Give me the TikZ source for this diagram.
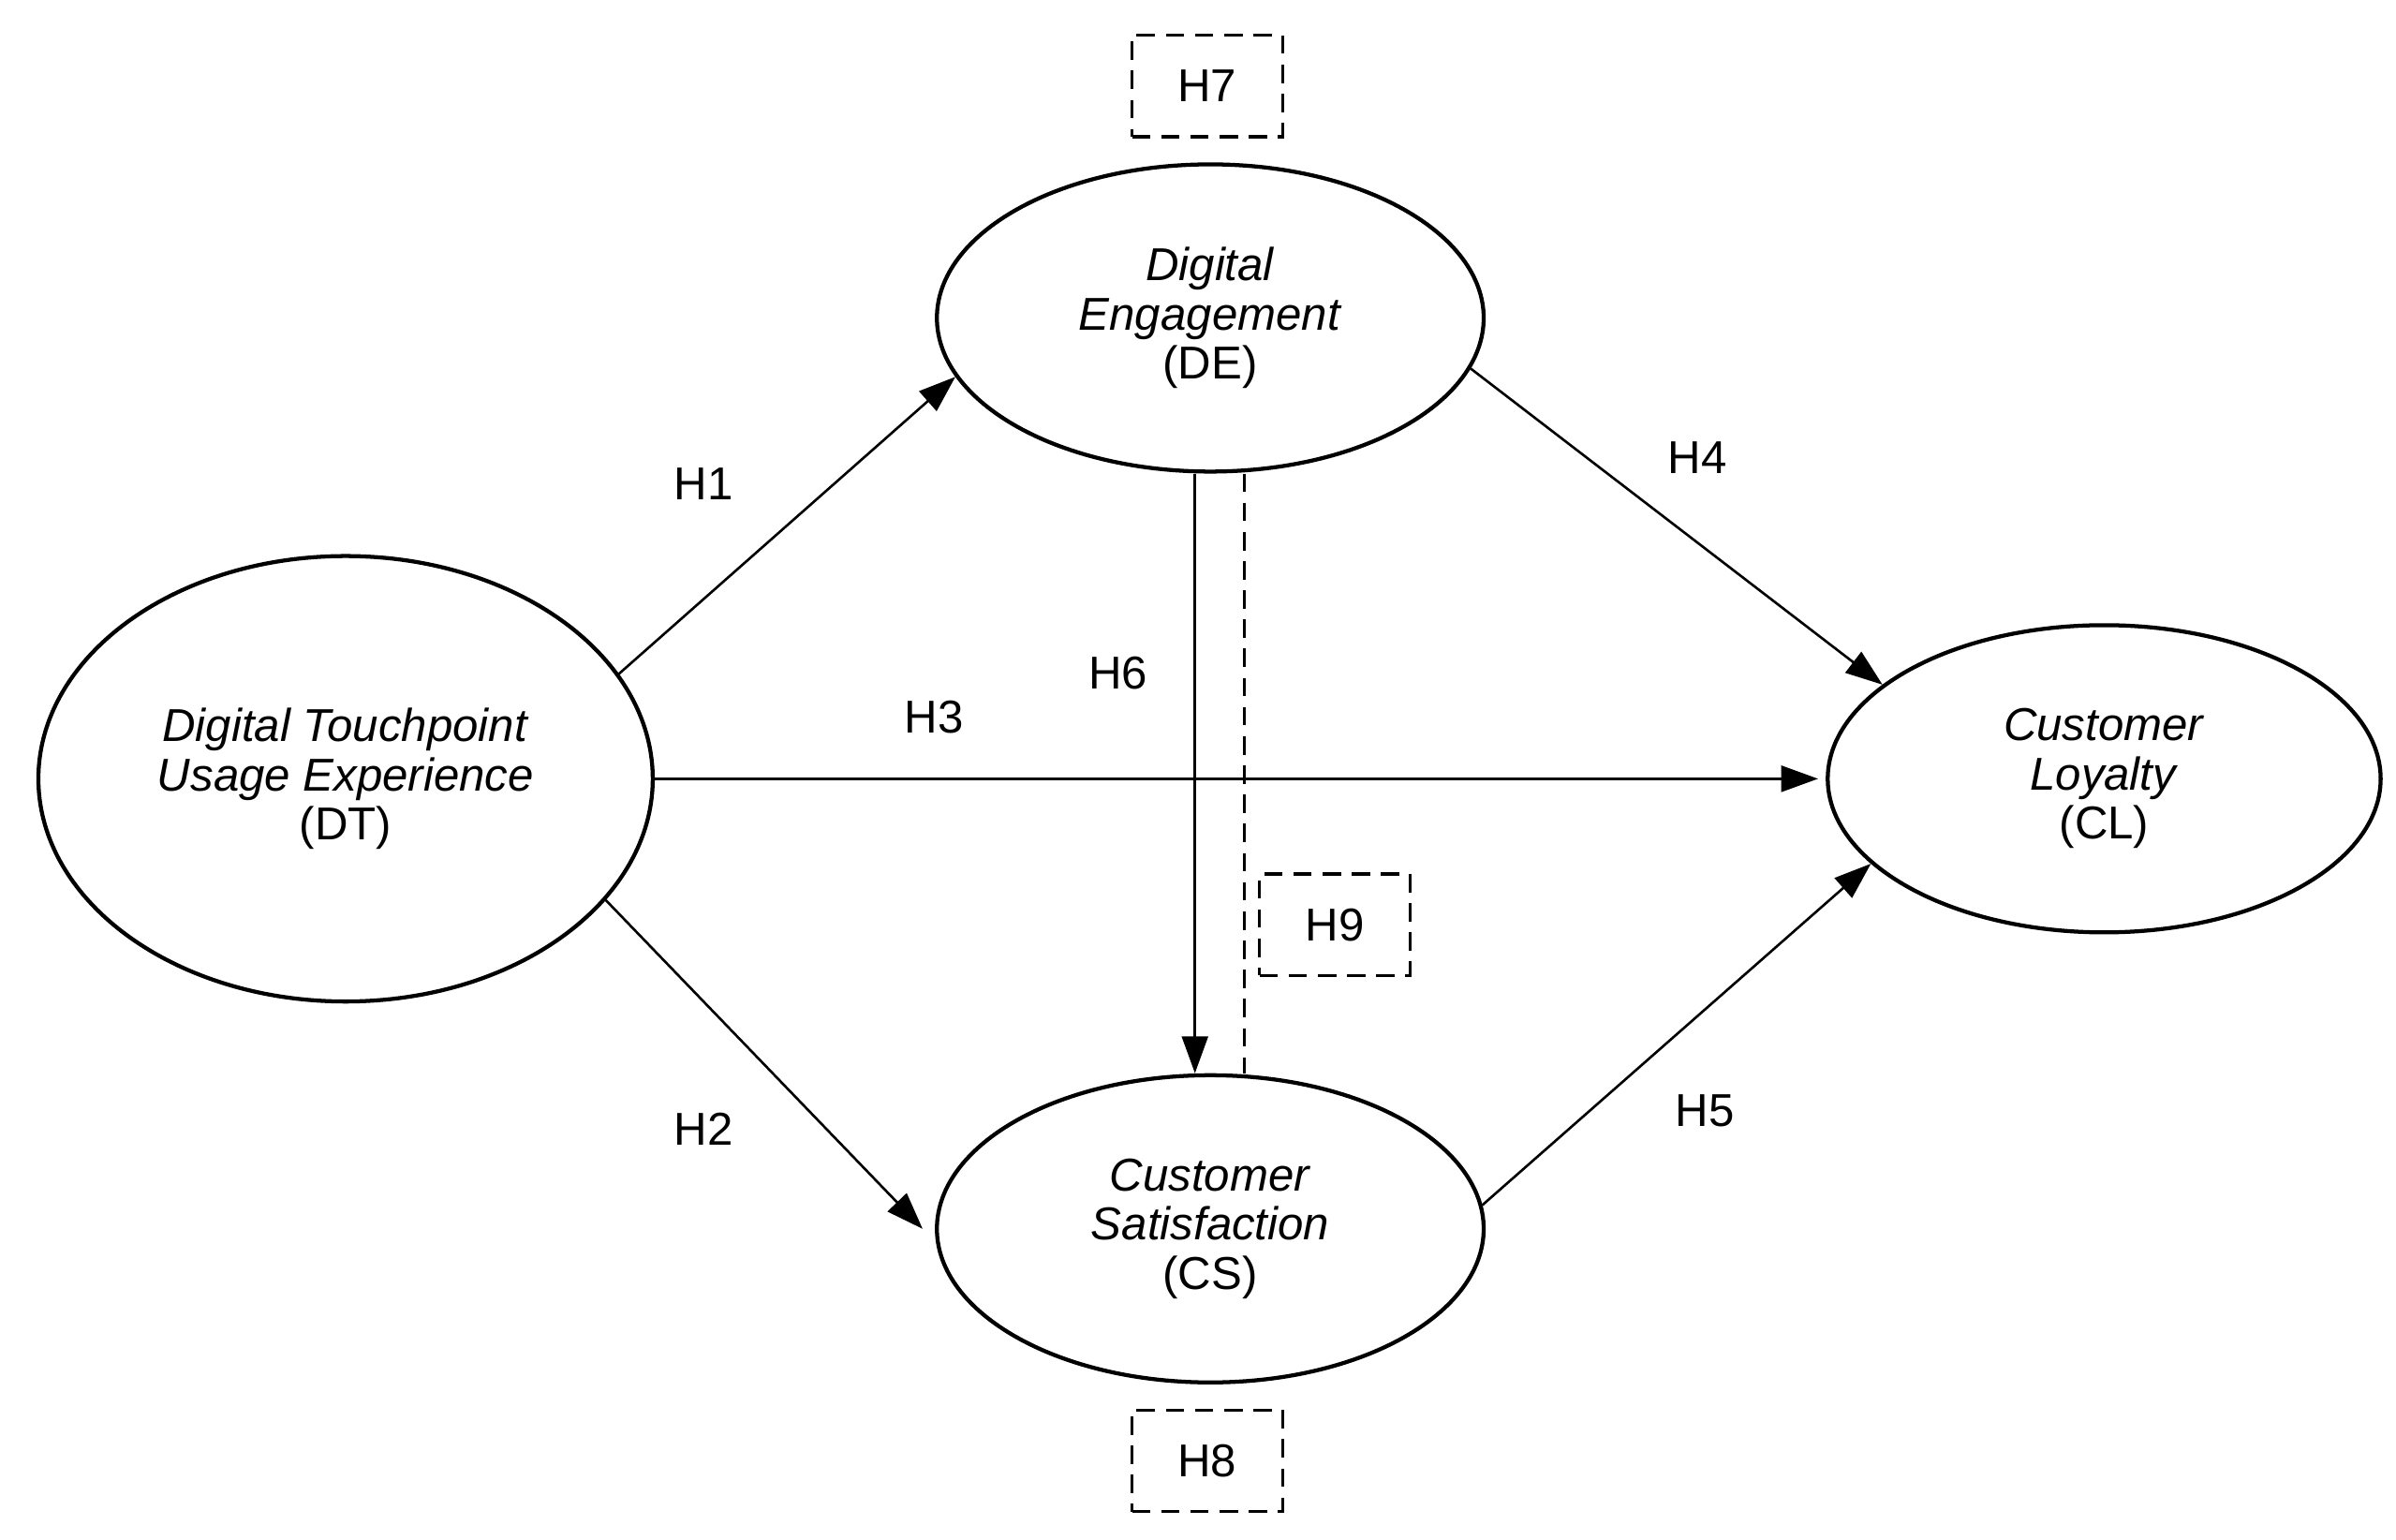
\documentclass[tikz,border=0pt]{standalone}
\usepackage{fontspec}
\setmainfont{Liberation Sans}
\usetikzlibrary{shapes.geometric,arrows.meta}
\begin{document}
\begin{tikzpicture}[x=1pt,y=-1pt,
  every node/.style={font=\fontsize{30}{36}\selectfont},
  ell/.style={ellipse,draw,line width=2.6pt,inner sep=0pt,align=center},
  hbox/.style={draw,dashed,line width=2pt,dash pattern=on 12pt off 7pt,minimum width=98pt,minimum height=66pt},
  arr/.style={line width=1.6pt,-{Triangle[length=24pt,width=17pt]}}]
\useasboundingbox (0,0) rectangle (1560,1002);
\node[ell,minimum width=400pt,minimum height=290pt] (DT) at (225,507) {\textit{Digital Touchpoint}\\[-4pt]\textit{Usage Experience}\\[-4pt](DT)};
\node[ell,minimum width=356pt,minimum height=200pt] (DE) at (788,207) {\textit{Digital}\\[-4pt]\textit{Engagement}\\[-4pt](DE)};
\node[ell,minimum width=356pt,minimum height=200pt] (CS) at (788,800) {\textit{Customer}\\[-4pt]\textit{Satisfaction}\\[-4pt](CS)};
\node[ell,minimum width=360pt,minimum height=200pt] (CL) at (1370,507) {\textit{Customer}\\[-4pt]\textit{Loyalty}\\[-4pt](CL)};
\node[hbox] (H7) at (786,56) {H7};
\node[hbox] (H8) at (786,951) {H8};
\node[hbox] (H9) at (869,602) {H9};
\draw[arr] (DT.21) -- (DE.193);
\draw[arr] (DT.-25) -- ([xshift=-8pt]CS.180);
\draw[arr] (DT.east) -- ([xshift=-5pt]CL.west);
\draw[arr] (DE.-11) -- (CL.157);
\draw[arr] (CS.5) -- (CL.200);
\draw[arr] ([xshift=-10pt]DE.south) -- ([xshift=-10pt]CS.north);
\draw[line width=1.6pt,dash pattern=on 12pt off 7pt] ([xshift=22pt]DE.south) -- ([xshift=22pt]CS.north);
\node (l1) at (458,315) {H1};
\node (l2) at (458,735) {H2};
\node (l3) at (608,467) {H3};
\node (l4) at (1105,298) {H4};
\node (l5) at (1110,723) {H5};
\node (l6) at (728,438) {H6};
\end{tikzpicture}
\end{document}
